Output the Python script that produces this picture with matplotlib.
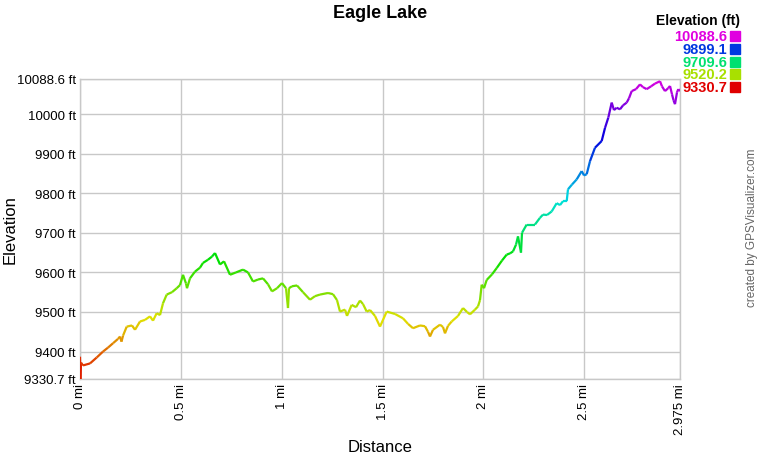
import numpy as np
import matplotlib
matplotlib.use("Agg")
import matplotlib.pyplot as plt
from matplotlib.collections import LineCollection
from matplotlib.colors import hsv_to_rgb

plt.rcParams['font.family'] = ['Liberation Sans', 'DejaVu Sans']

# profile: pixel x -> miles later, elevation in ft
px_x = [80, 80.5, 81, 83, 90, 96.7, 103, 108, 113, 118, 120, 121.5, 123, 126.7, 132, 135, 140,
        145, 150, 153, 156.7, 160, 163, 166.7, 172, 176.7, 180, 183, 186, 187, 190, 195, 200,
        203, 208, 212, 215, 220, 224, 230, 236, 243, 248, 253, 258, 263, 268, 272, 277, 282,
        286, 288, 289, 292, 297, 303, 310, 315, 320, 328, 333, 337, 340, 345, 347, 351.7, 356,
        360, 363, 366.7, 370, 375, 380, 386.7, 395, 403, 408, 413, 420, 425, 428, 430, 433, 440,
        443, 445, 448, 451.7, 458, 463, 467, 470, 475, 478, 480, 481.7, 484, 486.7, 492, 496.7,
        502, 506.7, 510, 513, 516, 518, 521, 522, 526.7, 531, 535, 540, 543, 547, 551.7, 556.7,
        560, 563, 566.7, 568, 572, 576.7, 581.7, 584, 586.7, 590, 595, 601.7, 605, 608.3, 611.7,
        614, 616.7, 620, 623, 626.7, 629, 631.7, 636, 640, 643, 646.7, 651, 655, 660, 662, 665,
        668, 670, 672, 673.5, 675, 677, 678.3, 680]
elev_ft = [9387, 9330.7, 9372, 9365, 9370, 9385, 9400, 9410, 9421, 9432, 9438, 9425, 9440, 9463,
           9466, 9455, 9476, 9480, 9489, 9478, 9497, 9492, 9522, 9544, 9550, 9560, 9568, 9594,
           9572, 9560, 9585, 9602, 9612, 9624, 9632, 9640, 9649, 9620, 9628, 9594, 9600, 9607,
           9600, 9577, 9582, 9585, 9570, 9552, 9560, 9573, 9560, 9510, 9560, 9565, 9567, 9550,
           9531, 9540, 9544, 9548, 9545, 9530, 9501, 9506, 9490, 9518, 9512, 9529, 9520, 9501,
           9505, 9490, 9463, 9501, 9495, 9484, 9470, 9459, 9466, 9464, 9450, 9438, 9455, 9468,
           9462, 9446, 9465, 9476, 9490, 9510, 9500, 9494, 9506, 9514, 9530, 9569, 9560, 9581,
           9595, 9611, 9630, 9645, 9648, 9653, 9670, 9691, 9650, 9700, 9721, 9721, 9721, 9738,
           9746, 9745, 9754, 9775, 9770, 9780, 9780, 9810, 9822, 9835, 9856, 9845, 9848, 9881,
           9915, 9932, 9965, 9991, 10029, 10010, 10016, 10012, 10022, 10029, 10040, 10058, 10063,
           10075, 10068, 10063, 10070, 10077, 10083, 10070, 10058, 10065, 10071, 10050, 10035,
           10025, 10055, 10063, 10058]

dist_mi = (np.array(px_x) - 80) * 2.975 / 600
elev = np.array(elev_ft)

e_min, e_max = 9330.7, 10088.6
legend_vals = [10088.6, 9899.1, 9709.6, 9520.2, 9330.7]
x_ticks = [0, 0.5, 1, 1.5, 2, 2.5, 2.975]
x_labels = ["0 mi", "0.5 mi", "1 mi", "1.5 mi", "2 mi", "2.5 mi", "2.975 mi"]
y_ticks = [9330.7, 9400, 9500, 9600, 9700, 9800, 9900, 10000, 10088.6]


def elev_color(e):
    h = (e - e_min) / (e_max - e_min) * 300 / 360
    return hsv_to_rgb([np.clip(h, 0, 300 / 360), 1.0, 0.88])


fig = plt.figure(figsize=(7.6, 4.6), dpi=100)
ax = fig.add_axes([80 / 760, 1 - 380 / 460, 600 / 760, 300 / 460])

pts = np.column_stack([dist_mi, elev]).reshape(-1, 1, 2)
segs = np.concatenate([pts[:-1], pts[1:]], axis=1)
cols = [elev_color((a + b) / 2) for a, b in zip(elev[:-1], elev[1:])]
lc = LineCollection(segs, colors=cols, linewidths=1.6, capstyle='butt', zorder=3)
ax.add_collection(lc)

ax.set_xlim(0, 2.975)
ax.set_ylim(e_min, e_max)
ax.set_xticks(x_ticks)
ax.set_xticklabels(x_labels, rotation=90, fontsize=9.5)
ax.set_yticks(y_ticks)
ax.set_yticklabels([f"{v:g} ft" for v in y_ticks], fontsize=9.5)
ax.tick_params(length=0, pad=3)
ax.grid(True, color='#c8c8c8', linewidth=1)
for s in ax.spines.values():
    s.set_color('#c8c8c8')
    s.set_linewidth(1)

ax.set_xlabel("Distance", fontsize=12, labelpad=4)
fig.text(10 / 760, 1 - 230 / 460, "Elevation", rotation=90, ha='center', va='center',
         fontsize=12)

fig.text(380 / 760, 1 - 13 / 460, "Eagle Lake", ha='center', va='center',
         fontsize=13, fontweight='bold')

# elevation legend
fig.text(740 / 760, 1 - 21 / 460, "Elevation (ft)", ha='right', va='center',
         fontsize=10, fontweight='bold')
for i, v in enumerate(legend_vals):
    yy = 1 - (37 + i * 12.8) / 460
    c = elev_color(v)
    fig.text(727 / 760, yy, f"{v:.1f}", ha='right', va='center', fontsize=10.5,
             fontweight='bold', color=c)
    fig.patches.append(plt.Rectangle((730 / 760, yy - 5 / 460), 10 / 760, 10 / 460,
                                     transform=fig.transFigure, color=c, figure=fig))

fig.text(752 / 760, 1 - 228 / 460, "created by GPSVisualizer.com", rotation=90,
         ha='center', va='center', fontsize=8.5, color='#666666')

fig.savefig("out.png", dpi=100)
